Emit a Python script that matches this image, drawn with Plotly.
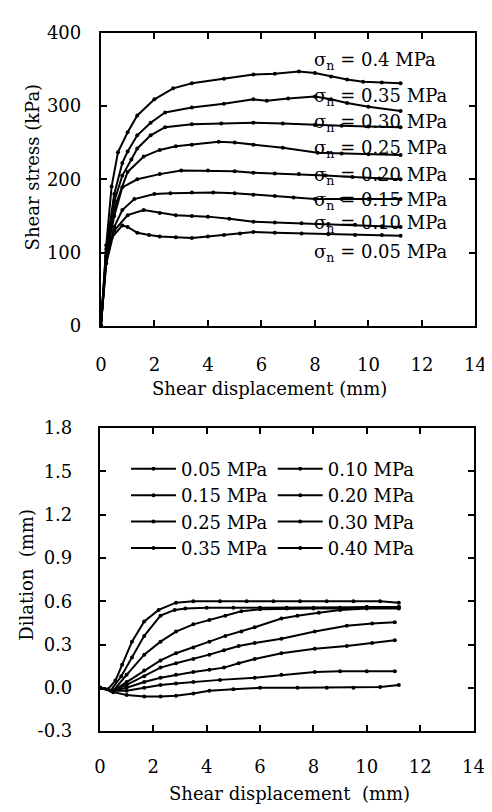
import plotly.graph_objects as go

# ---------------- data: shear stress (kPa) vs shear displacement (mm) ----------------
stress_labels = ["0.05", "0.10", "0.15", "0.20", "0.25", "0.30", "0.35", "0.4"]
label_y = [100, 139, 171, 205, 241, 277, 312, 361]

s005_x = [0, 0.2, 0.4, 0.8, 1.0, 1.36, 1.8, 2.2, 2.8, 3.4, 4.0, 4.6, 5.2, 5.7, 6.5, 7.5, 8.5, 9.5, 10.5, 11.2]
s005_y = [0, 90, 120, 137, 135, 127, 124, 122, 121, 120, 122, 124, 126, 128, 127, 126, 125, 124, 124, 123]
s010_x = [0, 0.2, 0.5, 1.0, 1.6, 2.2, 2.8, 3.4, 4.0, 4.8, 5.7, 6.5, 7.5, 8.5, 9.5, 10.5, 11.2]
s010_y = [0, 85, 130, 151, 158, 154, 151, 150, 149, 146, 142, 141, 140, 139, 138, 136, 135]
s015_x = [0, 0.2, 0.5, 0.8, 1.25, 2.0, 2.6, 3.4, 4.2, 5.0, 5.7, 6.5, 7.2, 8.0, 9.0, 10.0, 11.2]
s015_y = [0, 90, 135, 158, 173, 180, 181, 182, 182, 181, 179, 177, 175, 173, 173, 173, 173]
s020_x = [0, 0.2, 0.5, 0.8, 1.36, 2.2, 3.0, 4.0, 5.0, 5.7, 6.5, 7.4, 8.4, 9.4, 10.4, 11.2]
s020_y = [0, 95, 150, 189, 200, 207, 212, 212, 211, 209, 208, 207, 205, 203, 201, 200]
s025_x = [0, 0.2, 0.5, 1.0, 1.6, 2.2, 2.8, 3.4, 4.4, 5.0, 5.7, 6.8, 8.1, 9.0, 10.0, 11.2]
s025_y = [0, 95, 160, 210, 231, 240, 245, 247, 251, 250, 247, 243, 236, 235, 234, 233]
s030_x = [0, 0.2, 0.5, 0.8, 1.14, 1.36, 1.86, 2.4, 3.4, 4.5, 5.7, 6.8, 8.0, 9.0, 10.0, 11.2]
s030_y = [0, 100, 170, 205, 227, 242, 260, 271, 275, 276, 277, 276, 274, 273, 272, 271]
s035_x = [0, 0.2, 0.5, 0.8, 1.0, 1.36, 1.86, 2.4, 3.4, 4.6, 5.7, 6.2, 7.0, 8.0, 8.6, 9.2, 10.0, 11.2]
s035_y = [0, 105, 180, 222, 238, 260, 277, 291, 298, 303, 309, 307, 310, 313, 309, 304, 299, 293]
s040_x = [0, 0.2, 0.4, 0.64, 1.0, 1.36, 2.0, 2.7, 3.4, 4.6, 5.7, 6.5, 7.4, 8.0, 8.6, 9.2, 9.8, 10.5, 11.2]
s040_y = [0, 110, 190, 237, 264, 287, 309, 324, 331, 337, 343, 344, 347, 345, 340, 336, 333, 332, 331]

stress_x = [s005_x, s010_x, s015_x, s020_x, s025_x, s030_x, s035_x, s040_x]
stress_y = [s005_y, s010_y, s015_y, s020_y, s025_y, s030_y, s035_y, s040_y]

# ---------------- data: dilation (mm) vs shear displacement (mm) ----------------
legend_names = ["0.05 MPa", "0.10 MPa", "0.15 MPa", "0.20 MPa",
                "0.25 MPa", "0.30 MPa", "0.35 MPa", "0.40 MPa"]

d005_x = [0, 0.3, 0.58, 0.83, 1.2, 1.66, 2.2, 2.85, 3.5, 4.5, 5.5, 6.5, 7.5, 8.5, 9.5, 10.5, 11.2]
d005_y = [0, -0.01, 0.05, 0.16, 0.32, 0.46, 0.54, 0.59, 0.60, 0.60, 0.60, 0.60, 0.60, 0.60, 0.60, 0.60, 0.59]
d010_x = [0, 0.4, 0.8, 1.2, 1.66, 2.27, 2.8, 3.2, 4.0, 5.0, 6.0, 7.0, 8.0, 9.0, 10.0, 11.2]
d010_y = [0, -0.02, 0.08, 0.21, 0.36, 0.50, 0.54, 0.55, 0.555, 0.555, 0.555, 0.555, 0.555, 0.555, 0.56, 0.56]
d015_x = [0, 0.5, 1.0, 1.66, 2.27, 2.85, 3.5, 4.1, 4.7, 5.3, 6.0, 7.0, 8.0, 9.0, 10.0, 11.2]
d015_y = [0, -0.02, 0.09, 0.23, 0.32, 0.39, 0.44, 0.47, 0.50, 0.53, 0.545, 0.55, 0.55, 0.55, 0.56, 0.56]
d020_x = [0, 0.5, 1.0, 1.66, 2.27, 2.85, 3.5, 4.1, 4.7, 5.3, 5.8, 6.8, 7.4, 8.2, 9.0, 10.0, 11.2]
d020_y = [0, -0.02, 0.04, 0.12, 0.19, 0.24, 0.28, 0.32, 0.36, 0.39, 0.42, 0.48, 0.50, 0.52, 0.54, 0.55, 0.55]
d025_x = [0, 0.5, 1.0, 1.66, 2.27, 2.85, 3.5, 4.1, 4.65, 5.2, 5.8, 6.8, 8.05, 9.25, 10.2, 11.05]
d025_y = [0, -0.02, 0.02, 0.08, 0.14, 0.17, 0.20, 0.23, 0.26, 0.29, 0.31, 0.34, 0.39, 0.43, 0.445, 0.455]
d030_x = [0, 0.5, 1.0, 1.66, 2.27, 2.85, 3.5, 4.1, 4.65, 5.2, 5.8, 6.8, 8.05, 9.25, 10.2, 11.05]
d030_y = [0, -0.02, 0.0, 0.04, 0.07, 0.09, 0.11, 0.125, 0.14, 0.17, 0.20, 0.24, 0.27, 0.29, 0.31, 0.33]
d035_x = [0, 0.5, 1.0, 1.66, 2.27, 2.85, 3.5, 4.5, 5.8, 6.8, 8.05, 9.0, 10.0, 11.05]
d035_y = [0, -0.02, -0.02, 0.0, 0.02, 0.03, 0.04, 0.055, 0.07, 0.09, 0.11, 0.115, 0.115, 0.115]
d040_x = [0, 0.5, 1.0, 1.66, 2.27, 2.85, 3.5, 4.1, 5.0, 6.0, 7.4, 8.5, 9.5, 10.5, 11.2]
d040_y = [0, -0.03, -0.05, -0.06, -0.06, -0.055, -0.04, -0.02, -0.01, 0.0, 0.0, 0.0, 0.0, 0.005, 0.02]

dil_x = [d005_x, d010_x, d015_x, d020_x, d025_x, d030_x, d035_x, d040_x]
dil_y = [d005_y, d010_y, d015_y, d020_y, d025_y, d030_y, d035_y, d040_y]

x_ticks = [0, 2, 4, 6, 8, 10, 12, 14]
stress_ticks = [0, 100, 200, 300, 400]
dil_ticks = [-0.3, 0.0, 0.3, 0.6, 0.9, 1.2, 1.5, 1.8]
dil_tick_text = ["-0.3", "0.0", "0.3", "0.6", "0.9", "1.2", "1.5", "1.8"]

# ---------------- figure ----------------
FONT = "DejaVu Serif"
FS = 18
W, H = 492, 812
fig = go.Figure()

for i in range(8):
    fig.add_trace(go.Scatter(
        x=stress_x[i], y=stress_y[i], mode="lines+markers",
        line=dict(color="black", width=2),
        marker=dict(color="black", size=4),
        showlegend=False, xaxis="x", yaxis="y"))

for i in range(8):
    fig.add_trace(go.Scatter(
        x=dil_x[i], y=dil_y[i], mode="lines+markers", name=legend_names[i],
        line=dict(color="black", width=2),
        marker=dict(color="black", size=4),
        legend="legend" if i % 2 == 0 else "legend2",
        xaxis="x2", yaxis="y2"))

axis_common = dict(
    showline=True, linecolor="black", linewidth=2, mirror="ticks",
    ticks="inside", ticklen=6, tickwidth=2, tickcolor="black",
    showgrid=False, zeroline=False,
    tickfont=dict(family=FONT, size=FS, color="black"),
)

fig.update_layout(
    width=W, height=H, autosize=False,
    margin=dict(l=0, r=0, t=0, b=0),
    paper_bgcolor="white", plot_bgcolor="white",
    font=dict(family=FONT, size=FS, color="black"),
    xaxis=dict(domain=[90 / W, 478 / W], range=[0, 14], tickvals=x_ticks,
               anchor="y", ticklabelstandoff=22, **axis_common),
    yaxis=dict(domain=[1 - 315 / H, 1 - 14 / H], range=[0, 400], tickvals=stress_ticks,
               anchor="x", ticklabelstandoff=14, **axis_common),
    xaxis2=dict(domain=[89 / W, 476 / W], range=[0, 14], tickvals=x_ticks,
                anchor="y2", ticklabelstandoff=18, **axis_common),
    yaxis2=dict(domain=[1 - 731 / H, 1 - 420 / H], range=[-0.3, 1.8], tickvals=dil_ticks,
                ticktext=dil_tick_text, anchor="x2", ticklabelstandoff=22, **axis_common),
    legend=dict(x=116 / W, y=1 - 443 / H, xanchor="left", yanchor="top",
                bgcolor="rgba(0,0,0,0)", itemwidth=45,
                font=dict(family=FONT, size=FS, color="black")),
    legend2=dict(x=268 / W, y=1 - 443 / H, xanchor="left", yanchor="top",
                 bgcolor="rgba(0,0,0,0)", itemwidth=45,
                 font=dict(family=FONT, size=FS, color="black")),
)

annotations = []
for lab, yv in zip(stress_labels, label_y):
    annotations.append(dict(
        x=7.9, y=yv, xref="x", yref="y", xanchor="left", yanchor="middle",
        text="σ<sub>n</sub> = " + lab + " MPa", showarrow=False,
        font=dict(family=FONT, size=FS, color="black")))

annotations += [
    dict(x=265 / W, y=1 - 379 / H, xref="paper", yref="paper", text="Shear displacement (mm)",
         showarrow=False, xanchor="center", yanchor="middle",
         font=dict(family=FONT, size=FS, color="black")),
    dict(x=285 / W, y=1 - 795 / H, xref="paper", yref="paper",
         text="Shear displacement \u00a0(mm)",
         showarrow=False, xanchor="center", yanchor="middle",
         font=dict(family=FONT, size=FS, color="black")),
    dict(x=19 / W, y=1 - 152 / H, xref="paper", yref="paper", text="Shear stress (kPa)",
         showarrow=False, textangle=-90, xanchor="center", yanchor="middle",
         font=dict(family=FONT, size=FS, color="black")),
    dict(x=13 / W, y=1 - 571 / H, xref="paper", yref="paper", text="Dilation \u00a0(mm)",
         showarrow=False, textangle=-90, xanchor="center", yanchor="middle",
         font=dict(family=FONT, size=FS, color="black")),
]
fig.update_layout(annotations=annotations)

fig.write_html("out.html")
